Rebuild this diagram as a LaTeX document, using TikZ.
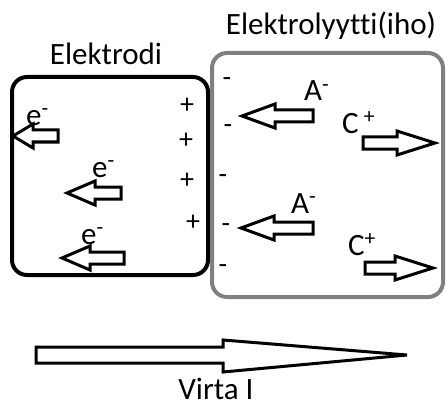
\documentclass[tikz,border=0pt]{standalone}
\usepackage{fontspec}
\setmainfont[Ligatures=NoCommon]{Carlito}

\begin{document}
\begin{tikzpicture}[x=1pt,y=-1pt,
  lbl/.style={inner sep=0pt,font=\fontsize{31}{36}\selectfont},
  sgn/.style={inner sep=0pt,font=\fontsize{28}{32}\selectfont},
  hollow/.style={line width=3pt,fill=white}]
\useasboundingbox (0,0) rectangle (446,406);
% electrode and skin
\draw[line width=4pt,rounded corners=15pt] (12,77) rectangle (208,275);
\draw[line width=4pt,gray,rounded corners=15pt] (212,53) rectangle (443,297);
\node[lbl,anchor=base] (elektrodi) at (106,65) {Elektrodi};
\node[lbl,anchor=base] (iho) at (331,35) {Elektrolyytti(iho)};
% charges at the boundary
\foreach \x/\y [count=\i] in {187/106,186/141,187/181,193/223}
  \node[sgn] (plus\i) at (\x,\y) {+};
\foreach \x/\y [count=\i] in {227/82,228/129,223/179,226/228,223/269}
  \node[sgn] (minus\i) at (\x,\y) {-};
% moving charges: tail/tip/y/head length/direction
\foreach \s/\t/\y/\h/\d in {58/13/136/20/1,121/67/193/28/1,124/62/258/28/1,
    313/242/116/33/1,313/241/228/33/1,363/435/143/38/-1,365/433/268/38/-1}
  \draw[hollow] (\s,{\y-6}) -- ({\t+\d*\h},{\y-6}) -- ({\t+\d*\h},{\y-12})
    -- (\t,\y) -- ({\t+\d*\h},{\y+12}) -- ({\t+\d*\h},{\y+6}) -- (\s,{\y+6}) -- cycle;
\node[lbl,anchor=base west] (e1) at (26,125) {e\textsuperscript{-}};
\node[lbl,anchor=base west] (e2) at (92,177) {e\textsuperscript{-}};
\node[lbl,anchor=base west] (e3) at (81,244) {e\textsuperscript{-}};
\node[lbl,anchor=base west] (a1) at (304,101) {A\textsuperscript{-}};
\node[lbl,anchor=base west] (a2) at (291,213) {A\textsuperscript{-}};
\node[lbl,anchor=base west] (c1) at (342,133) {C\,\textsuperscript{+}};
\node[lbl,anchor=base west] (c2) at (348,255) {C\textsuperscript{+}};
% current
\draw[hollow] (36,347) -- (223,347) -- (223,340) -- (407,355) -- (223,372)
  -- (223,363) -- (36,363) -- cycle;
\node[lbl,anchor=base] (virta) at (216,399) {Virta I};
\end{tikzpicture}
\end{document}
